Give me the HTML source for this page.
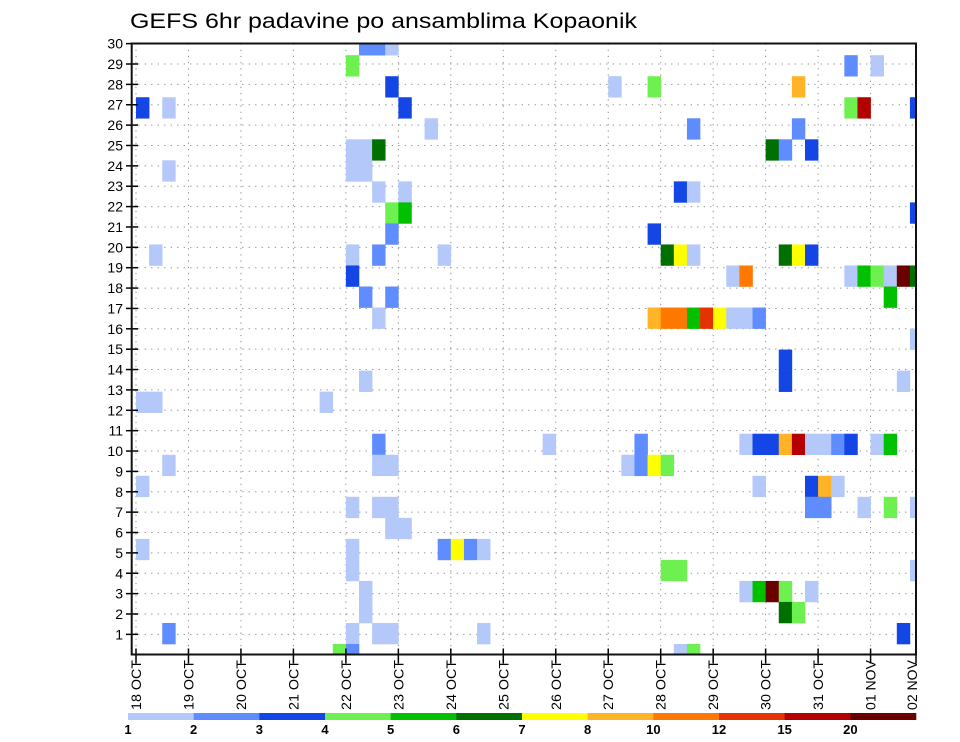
<!DOCTYPE html>
<html><head><meta charset="utf-8"><style>
html,body{margin:0;padding:0;background:#fff;}
svg{display:block;font-family:"Liberation Sans",sans-serif;}
</style></head><body>
<svg id="chart" width="960" height="742" viewBox="0 0 960 742" xmlns="http://www.w3.org/2000/svg">
<text x="130" y="28" font-size="21" textLength="507" lengthAdjust="spacingAndGlyphs" fill="#000">GEFS 6hr padavine po ansamblima Kopaonik</text>
<g id="grid"></g>
<g id="cells"></g>
<g id="axes"></g>
<g id="legend"></g>
</svg>
<script>
const dayLabels = ["18 OCT","19 OCT","20 OCT","21 OCT","22 OCT","23 OCT","24 OCT","25 OCT","26 OCT","27 OCT","28 OCT","29 OCT","30 OCT","31 OCT","01 NOV","02 NOV"];
const memberTicks = [1,2,3,4,5,6,7,8,9,10,11,12,13,14,15,16,17,18,19,20,21,22,23,24,25,26,27,28,29,30];
const legendLabels = ["1","2","3","4","5","6","7","8","10","12","15","20"];
const levelColors = ["#b4c8fa","#5f8cff","#1446e6","#6ef050","#00c000","#007000","#ffff00","#ffb428","#ff7800","#e63200","#b40000","#6a0000"];
// cells: 6-hourly step index (from 18 OCT 00z), ensemble member slot, precipitation class (1..12)
const cellStep = [17,18,19,16,19,0,2,20,22,16,17,18,16,17,2,18,20,19,20,19,1,16,18,23,16,17,19,18,
17,0,1,14,18,18,19,2,0,16,18,19,19,20,0,16,16,23,17,17,16,18,19,2,15,16,
36,39,39,39,31,37,38,38,39,24,25,26,26,
54,56,50,54,55,59,42,50,48,49,51,41,42,59,40,41,42,49,50,51,45,46,54,55,56,57,58,59,57,40,41,42,43,44,45,46,47,59,
49,49,58,46,47,48,49,50,51,52,53,54,56,57,40,47,51,52,53,51,52,55,57,59,40,41,59,46,47,48,49,51,49,50,58,41,42];
const cellMember = [29,29,29,28,27,26,26,26,25,24,24,24,23,23,23,22,22,21,21,20,19,19,19,19,18,17,17,16,
13,12,12,12,10,9,9,9,8,7,7,7,6,6,5,5,4,5,3,2,1,1,1,1,0,0,
27,27,20,16,10,9,10,9,9,5,5,5,1,
28,28,27,26,26,26,25,25,24,24,24,22,22,21,19,19,19,19,19,19,18,18,18,18,18,18,18,18,17,16,16,16,16,16,16,16,16,15,
14,13,13,10,10,10,10,10,10,10,10,10,10,10,9,8,8,8,8,7,7,7,7,7,4,4,4,3,3,3,3,3,2,2,1,0,0];
const cellClass = [2,2,1,4,3,3,1,3,1,1,1,6,1,1,1,1,1,4,5,2,1,1,2,1,3,2,2,1,
1,1,1,1,2,1,1,1,1,1,1,1,1,1,1,1,1,2,1,1,1,1,1,2,4,2,
1,4,3,8,1,1,2,2,7,7,2,1,1,
2,1,8,4,11,3,2,2,6,2,3,3,1,3,6,7,1,6,7,3,1,9,1,5,4,1,12,6,5,9,9,5,10,7,1,1,2,1,
3,3,1,1,3,3,8,11,1,1,2,3,1,5,4,1,3,8,1,2,2,1,4,1,4,4,1,1,5,12,4,1,6,4,3,1,4];

const NS="http://www.w3.org/2000/svg";
const L=131.7, R=916, T=43.5, B=654.5;
const X0=136, DAY=52.47, STEP=DAY/4;
const CELL0=633.5, CELLH=21.03;
const xStep = s => X0 + s*STEP;
const yCell = k => CELL0 - (k-1)*CELLH;
const yTick = m => 64 + (29-m)*20.37;
const legX = i => 128 + i*(788/12);
function mk(tag, attrs, parent){const e=document.createElementNS(NS,tag);for(const a in attrs)e.setAttribute(a,attrs[a]);parent.appendChild(e);return e;}

const grid=document.getElementById('grid'), cells=document.getElementById('cells'), axes=document.getElementById('axes'), legend=document.getElementById('legend');
const svg=document.getElementById('chart');
const defs=mk('defs',{},svg);
const cp=mk('clipPath',{id:'plotclip'},defs);
mk('rect',{x:L,y:T,width:R-L,height:B-T},cp);
cells.setAttribute('clip-path','url(#plotclip)');

memberTicks.forEach(m=>{
  const y=yTick(m);
  const g=mk('line',{x1:L,x2:R,y1:y,y2:y,stroke:'#888','stroke-width':1,'stroke-dasharray':'1.2 5.3'},grid);
  
  
  const t=mk('line',{x1:126,x2:138,y1:y,y2:y,stroke:'#000','stroke-width':1.5},axes);
  
  
  const tx=mk('text',{x:123,y:y+5,'font-size':14,'text-anchor':'end',fill:'#000'},axes);
  tx.textContent=m;
  
  
});
dayLabels.forEach((d,i)=>{
  const x=X0+i*DAY;
  if(x<R){
    const v=mk('line',{x1:x,x2:x,y1:T,y2:B,stroke:'#888','stroke-width':1,'stroke-dasharray':'1.2 5'},grid);
    
    
  }
  const t=mk('line',{x1:Math.min(x,R),x2:Math.min(x,R),y1:B-6,y2:B+9,stroke:'#000','stroke-width':1.5},axes);
  
  
  const lx=Math.min(x,912)+5;
  const tx=mk('text',{x:0,y:0,'font-size':14,'text-anchor':'end',fill:'#000',textLength:50,lengthAdjust:'spacingAndGlyphs',transform:`translate(${lx},660) rotate(-90)`},axes);
  tx.textContent=d;
  
  
});
for(let i=0;i<cellStep.length;i++){
  const x=xStep(cellStep[i]), yc=yCell(cellMember[i]);
  const r=mk('rect',{x:x,y:yc-CELLH/2,width:STEP+0.3,height:CELLH+0.3,fill:levelColors[cellClass[i]-1]},cells);
  
  
}
const fr=mk('rect',{x:L,y:T,width:R-L,height:B-T,fill:'none',stroke:'#111','stroke-width':2},axes);



levelColors.forEach((c,i)=>{
  const r=mk('rect',{x:legX(i),y:713,width:788/12+0.3,height:7,fill:c},legend);
  
  
});
legendLabels.forEach((l,i)=>{
  const t=mk('text',{x:legX(i),y:734,'font-size':13,'font-weight':'bold','text-anchor':'middle',fill:'#000'},legend);
  t.textContent=l;
  
  
});
</script>
</body></html>
